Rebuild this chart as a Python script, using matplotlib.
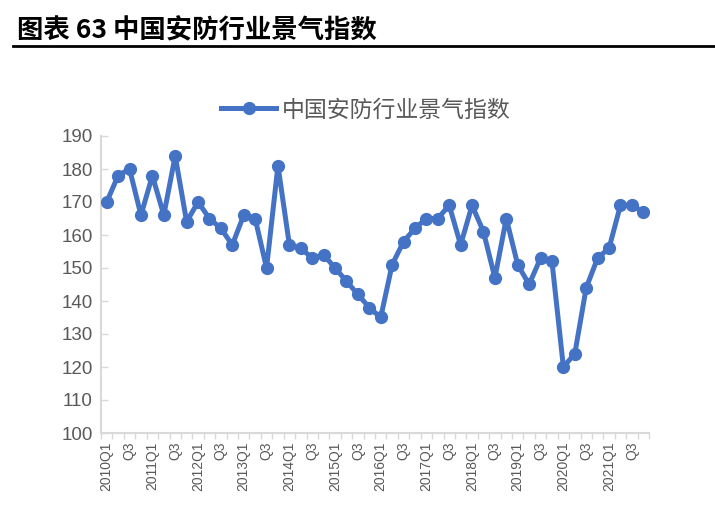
import matplotlib
matplotlib.use("Agg")
import matplotlib.pyplot as plt
from matplotlib.lines import Line2D

plt.rcParams['font.family'] = ['Liberation Sans', 'Noto Sans CJK SC', 'DejaVu Sans']

quarters = [f"{y}Q{q}" for y in range(2010, 2022) for q in range(1, 5)]
values = [170, 178, 180, 166, 178, 166, 184, 164,
          170, 165, 162, 157, 166, 165, 150, 181,
          157, 156, 153, 154, 150, 146, 142, 138,
          135, 151, 158, 162, 165, 165, 169, 157,
          169, 161, 147, 165, 151, 145, 153, 152,
          120, 124, 144, 153, 156, 169, 169, 167]
tick_labels = [q if q.endswith("Q1") else ("Q3" if q.endswith("Q3") else "") for q in quarters]
series_name = "中国安防行业景气指数"
title_text = "图表 63 中国安防行业景气指数"
yticks = list(range(100, 191, 10))

W, H = 715, 525
fig = plt.figure(figsize=(W / 100, H / 100), dpi=100)

ax = fig.add_axes([101 / W, 1 - 433 / H, (649 - 101) / W, (433 - 136) / H])
x = list(range(len(values)))
color = "#4472C4"
ax.plot(x, values, color=color, lw=3.6, marker="o", markersize=8.5,
        solid_joinstyle="round", zorder=3)

ax.set_xlim(-0.5, len(values) - 0.5)
ax.set_ylim(100, 190)
ax.set_yticks(yticks)
ax.set_yticklabels([str(v) for v in yticks], fontsize=13.5, color="#595959")
ax.set_xticks(x)
ax.set_xticklabels(tick_labels, rotation=90, fontsize=10, color="#595959")
ax.tick_params(axis="x", length=0, pad=6)
ax.set_xticks([i - 0.5 for i in range(len(values) + 1)], minor=True)
ax.tick_params(axis="x", which="minor", length=4, color="#D9D9D9", width=1)
ax.tick_params(axis="y", length=5, color="#D9D9D9", width=1, pad=6)
ax.tick_params(axis="y", direction="in")
for s in ["top", "right"]:
    ax.spines[s].set_visible(False)
for s in ["left", "bottom"]:
    ax.spines[s].set_color("#D9D9D9")
    ax.spines[s].set_linewidth(1.5)

# Title and rule
fig.text(17 / W, 1 - 31 / H, title_text, fontsize=19, fontweight="bold",
         family=['Noto Sans CJK SC', 'DejaVu Sans'], va="center", ha="left", color="black")
fig.add_artist(Line2D([13 / W, 1.0], [1 - 46 / H, 1 - 46 / H], color="black", lw=2))

# Legend
handle = Line2D([], [], color=color, lw=3.6, marker="o", markersize=8.5)
fig.legend([handle], [series_name], loc="center", bbox_to_anchor=(366 / W, 1 - 110 / H),
           frameon=False, handlelength=2.4, handletextpad=0.25,
           prop={'family': ['Noto Sans CJK SC'], 'size': 16.5},
           labelcolor="#595959")

fig.savefig("out.png", dpi=100)
